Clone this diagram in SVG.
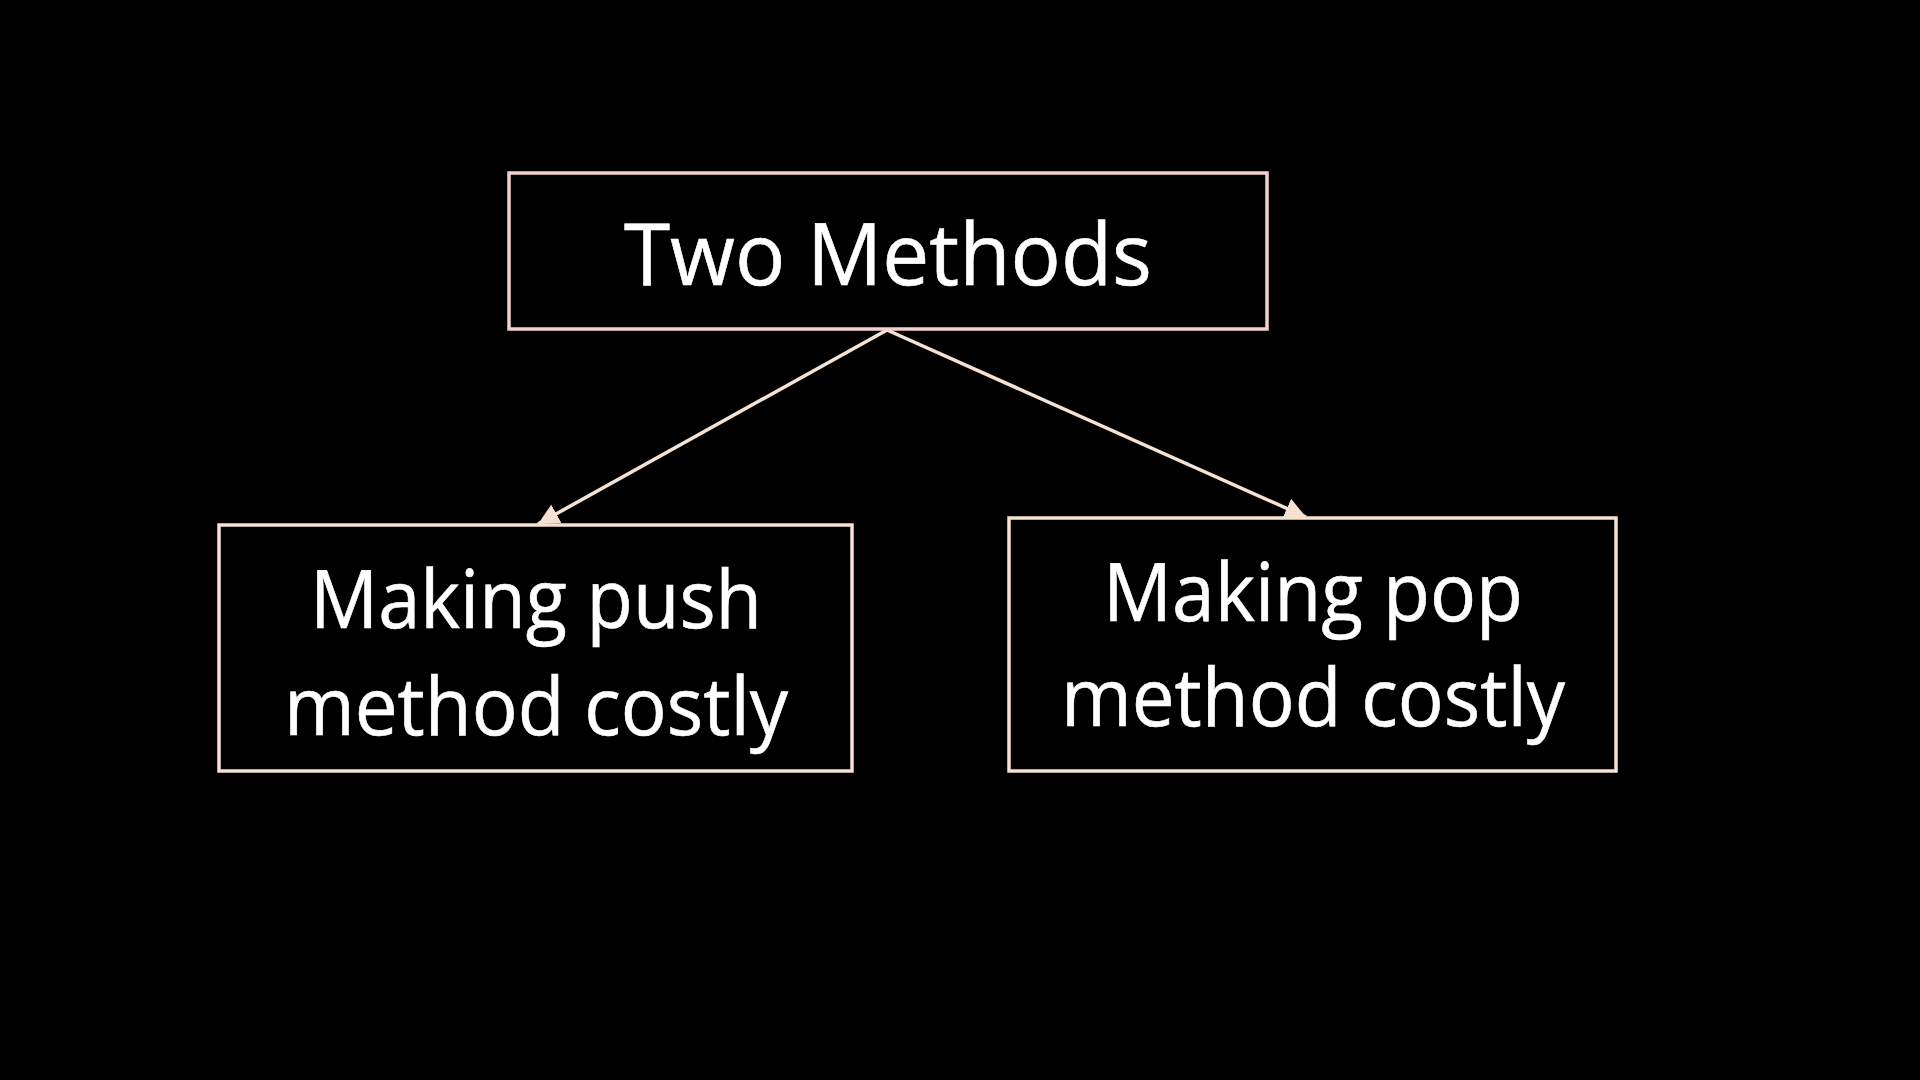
<svg xmlns="http://www.w3.org/2000/svg" width="1920" height="1080" viewBox="0 0 1920 1080">
<defs>
<style>
.box{fill:#000;stroke-width:3.5}
.t{fill:#fff;font-family:"Open Sans","Noto Sans","Liberation Sans",sans-serif;text-anchor:middle;stroke:#fff;stroke-width:0.6}
.conn{stroke:#f6e2d2;stroke-width:3.5;fill:none}
</style>
<marker id="ah2" viewBox="0 0 10 10" refX="10" refY="5" markerWidth="6" markerHeight="6" orient="auto">
<path d="M0,0 L10,5 L0,10 z" fill="#f6e2d2"/>
</marker>
</defs>
<rect width="1920" height="1080" fill="#000"/>
<g id="connectors">
<line class="conn" x1="887" y1="330" x2="538" y2="524" marker-end="url(#ah2)"/>
<line class="conn" x1="887" y1="330" x2="1306" y2="517" marker-end="url(#ah2)"/>
</g>
<g id="node-top">
<rect class="box" x="509" y="173" width="758" height="156" stroke="#f3cfcf"/>
<text class="t" x="888" y="285" font-size="86" textLength="528" lengthAdjust="spacingAndGlyphs">Two Methods</text>
</g>
<g id="node-push">
<rect class="box" x="219" y="525" width="633" height="246" stroke="#f6e2d2"/>
<text class="t" x="536" y="628" font-size="80" textLength="452" lengthAdjust="spacingAndGlyphs">Making push</text>
<text class="t" x="536" y="735" font-size="80" textLength="504" lengthAdjust="spacingAndGlyphs">method costly</text>
</g>
<g id="node-pop">
<rect class="box" x="1009" y="518" width="607" height="253" stroke="#f6e2d2"/>
<text class="t" x="1313" y="621" font-size="80" textLength="420" lengthAdjust="spacingAndGlyphs">Making pop</text>
<text class="t" x="1313" y="726" font-size="80" textLength="504" lengthAdjust="spacingAndGlyphs">method costly</text>
</g>
</svg>
